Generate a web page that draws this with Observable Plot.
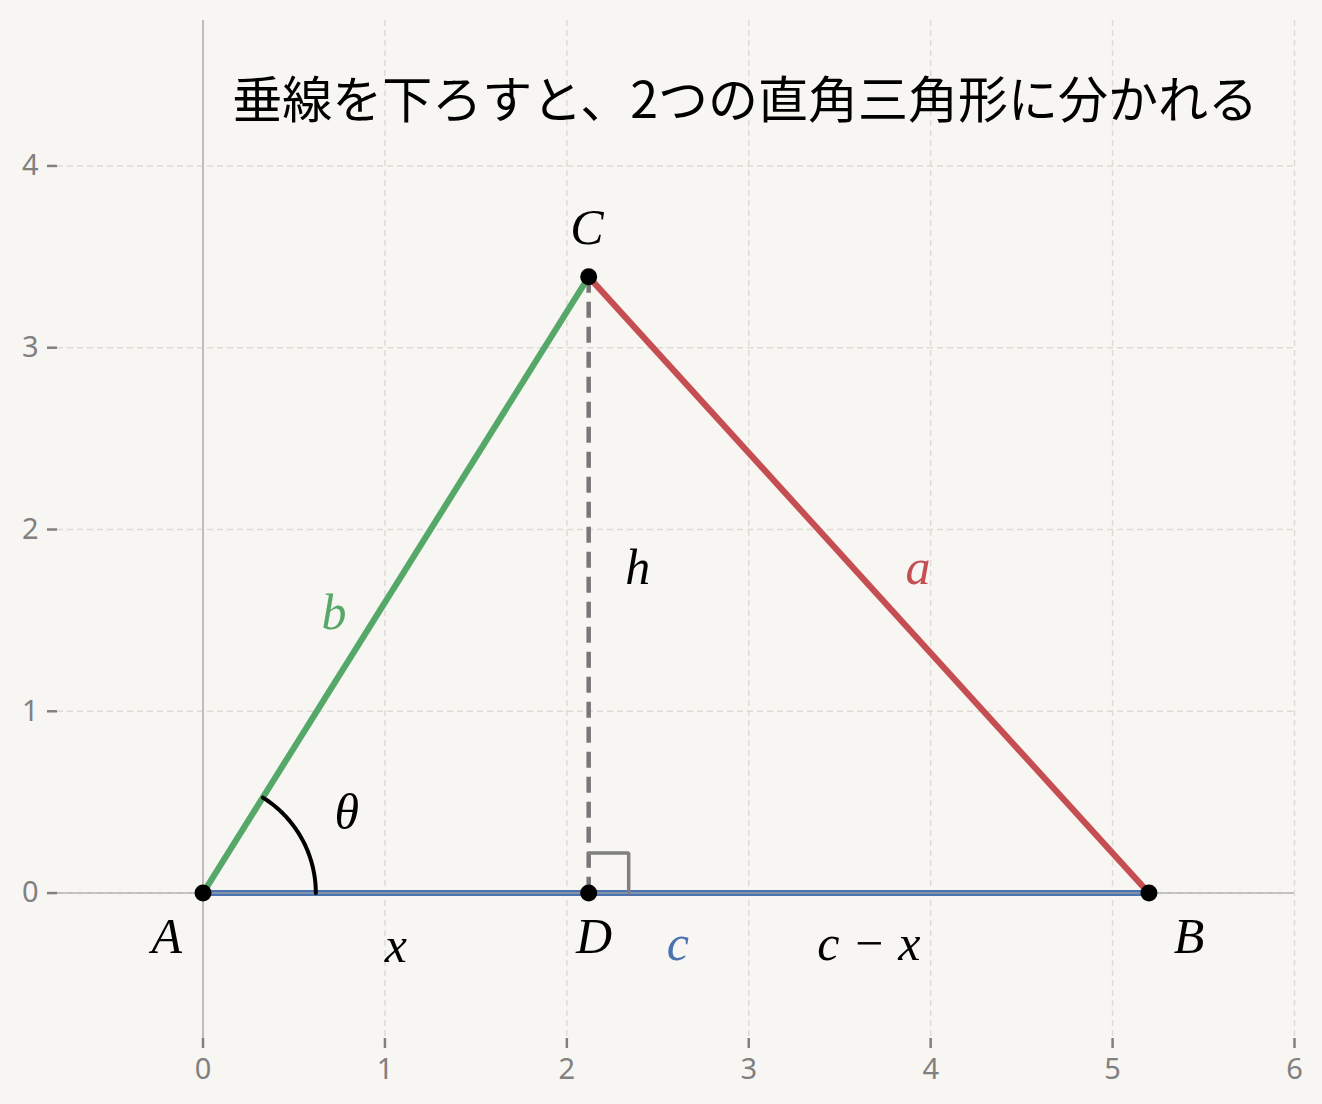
<!DOCTYPE html>
<html>
<head>
<meta charset="utf-8">
<script src="https://cdn.jsdelivr.net/npm/d3@7"></script>
<script src="https://cdn.jsdelivr.net/npm/@observablehq/plot@0.6"></script>
<style>
  html, body { margin: 0; padding: 0; background: #F7F6F2; }
  #chart svg { display: block; }
</style>
</head>
<body>
<div id="chart"></div>
<script>
// ---- data ----
const pointNames = ["A", "B", "C", "D"];
const pointX = [0, 5.2, 2.12, 2.12];
const pointY = [0, 0, 3.39, 0];

const sideFrom = ["A", "A", "C"];
const sideTo = ["B", "C", "B"];
const sideColor = ["#4C72B0", "#55A868", "#C44E52"];

const angleDeg = 58;      // θ at A
const arcRadius = 0.62;
const rightMark = 0.22;

const labelText = ["A", "B", "C", "D", "a", "b", "c", "h", "x", "c − x", "θ"];
const labelX = [-0.2, 5.42, 2.11, 2.15, 3.93, 0.72, 2.61, 2.39, 1.06, 3.66, 0.79];
const labelY = [-0.24, -0.24, 3.66, -0.24, 1.79, 1.54, -0.28, 1.79, -0.29, -0.28, 0.44];
const labelColor = ["black", "black", "black", "black", "#C44E52", "#55A868", "#4C72B0", "black", "black", "black", "black"];

const xTicks = [0, 1, 2, 3, 4, 5, 6];
const yTicks = [0, 1, 2, 3, 4];
const xTickLabels = ["0", "1", "2", "3", "4", "5", "6"];
const yTickLabels = ["0", "1", "2", "3", "4"];

const titleText = "垂線を下ろすと、2つの直角三角形に分かれる";
const titleX = 2.98;
const titleY = 4.35;

// ---- derived tables ----
const pts = pointNames.map((n, i) => ({name: n, x: pointX[i], y: pointY[i]}));
const P = Object.fromEntries(pts.map(p => [p.name, p]));
const sides = sideFrom.map((f, i) => ({
  x1: P[f].x, y1: P[f].y, x2: P[sideTo[i]].x, y2: P[sideTo[i]].y, color: sideColor[i]
}));
const arcPts = d3.range(0, angleDeg + 0.5, 1).map(t => ({
  x: P.A.x + arcRadius * Math.cos(t * Math.PI / 180),
  y: P.A.y + arcRadius * Math.sin(t * Math.PI / 180)
}));
const rightPts = [
  {x: P.D.x, y: P.D.y + rightMark},
  {x: P.D.x + rightMark, y: P.D.y + rightMark},
  {x: P.D.x + rightMark, y: P.D.y}
];
const labels = labelText.map((t, i) => ({t, x: labelX[i], y: labelY[i], c: labelColor[i]}));
const xTickData = xTicks.map((v, i) => ({v, t: xTickLabels[i]}));
const yTickData = yTicks.map((v, i) => ({v, t: yTickLabels[i]}));

const mathFont = "'Liberation Serif', 'DejaVu Serif', serif";
const cjkFont = "'Noto Sans CJK JP', 'Noto Sans', sans-serif";
const tickFont = "'Noto Sans', 'Noto Sans CJK JP', sans-serif";
const linkXY = {x1: "x1", y1: "y1", x2: "x2", y2: "y2"};

const chart = Plot.plot({
  width: 1322,
  height: 1104,
  marginLeft: 57,
  marginRight: 28,
  marginTop: 20,
  marginBottom: 66,
  style: {background: "#F7F6F2", fontFamily: cjkFont},
  x: {domain: [-0.8, 6], axis: null},
  y: {domain: [-0.8, 4.8], axis: null},
  marks: [
    Plot.gridX(xTicks, {stroke: "#dedbd5", strokeOpacity: 1, strokeWidth: 1.5, strokeDasharray: "6,4"}),
    Plot.gridY(yTicks, {stroke: "#dedbd5", strokeOpacity: 1, strokeWidth: 1.5, strokeDasharray: "6,4"}),
    Plot.axisX(xTicks, {tickSize: 10, color: "#808080", strokeWidth: 2.5, tickFormat: () => ""}),
    Plot.axisY(yTicks, {tickSize: 10, color: "#808080", strokeWidth: 2.5, tickFormat: () => ""}),
    Plot.text(xTickData, {x: "v", text: "t", frameAnchor: "bottom", dy: 31, fontSize: 29, fill: "#808080", fontFamily: tickFont, textAnchor: "middle", lineAnchor: "middle"}),
    Plot.text(yTickData, {y: "v", text: "t", frameAnchor: "left", dx: -19, fontSize: 29, fill: "#808080", fontFamily: tickFont, textAnchor: "end", lineAnchor: "middle"}),
    Plot.ruleX([0], {stroke: "#bdbdbd", strokeWidth: 2}),
    Plot.link(sides.slice(0, 1), {...linkXY, stroke: "color", strokeWidth: 6}),
    Plot.ruleY([0], {stroke: "#a8a8a8", strokeWidth: 2, strokeOpacity: 0.6}),
    Plot.link(sides.slice(1), {...linkXY, stroke: "color", strokeWidth: 6.2}),
    Plot.link([{x1: P.C.x, y1: P.C.y, x2: P.D.x, y2: P.D.y}], {...linkXY, stroke: "#777", strokeWidth: 4.5, strokeDasharray: "16,9"}),
    Plot.line(rightPts, {x: "x", y: "y", stroke: "#808080", strokeWidth: 3.5, strokeLinejoin: "miter"}),
    Plot.line(arcPts, {x: "x", y: "y", stroke: "black", strokeWidth: 4, curve: "linear"}),
    Plot.dot(pts, {x: "x", y: "y", r: 8.5, fill: "black"}),
    Plot.text(labels, {x: "x", y: "y", text: "t", fill: "c", fontSize: 50, fontStyle: "italic", fontFamily: mathFont, textAnchor: "middle", lineAnchor: "middle"}),
    Plot.text([titleText], {x: titleX, y: titleY, text: d => d, fontSize: 50, fill: "black", fontFamily: cjkFont, textAnchor: "middle", lineAnchor: "middle"})
  ]
});
document.getElementById("chart").appendChild(chart);
</script>
</body>
</html>
